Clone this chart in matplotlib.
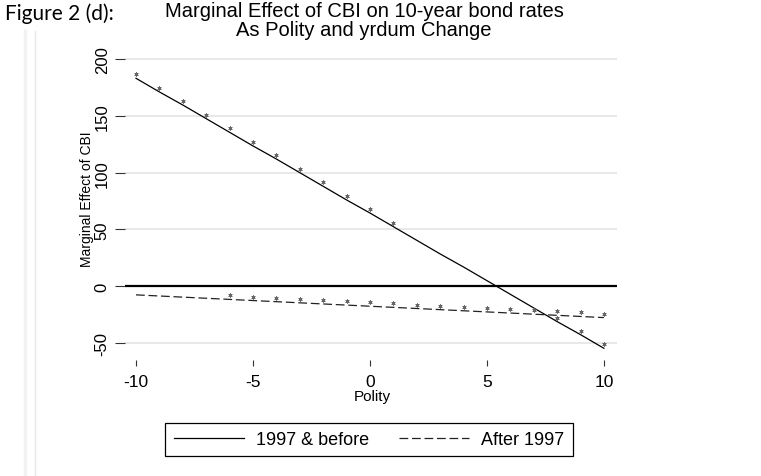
import numpy as np
import matplotlib.pyplot as plt
from matplotlib.lines import Line2D
from matplotlib.transforms import offset_copy

plt.rcParams['font.family'] = ['Liberation Sans', 'DejaVu Sans']

# marginal effect of CBI at each polity score
polity = [-10, -9, -8, -7, -6, -5, -4, -3, -2, -1, 0, 1, 2, 3, 4, 5, 6, 7, 8, 9, 10]
me_before = [183, 171, 159.5, 147.5, 135.5, 123.5, 112, 100, 88, 76, 64.5,
             52.5, 40.5, 28.5, 17, 5, -7, -19, -31, -42.5, -54.5]
me_after = [-7.5, -8.5, -9.5, -10.5, -11.5, -12.5, -13.5, -14.5, -15.5, -16.5, -17.5,
            -18.5, -19.5, -20.5, -21.5, -22.5, -23.5, -24.5, -25.5, -26.5, -27.5]
# 1 = significant (marked with *)
sig_before = [1, 1, 1, 1, 1, 1, 1, 1, 1, 1, 1, 1, 0, 0, 0, 0, 0, 0, 1, 1, 1]
sig_after = [0, 0, 0, 0, 1, 1, 1, 1, 1, 1, 1, 1, 1, 1, 1, 1, 1, 1, 1, 1, 1]

yticks = [-50, 0, 50, 100, 150, 200]
xticks = [-10, -5, 0, 5, 10]

W, H = 761, 477
fig = plt.figure(figsize=(W / 100, H / 100), dpi=100)

left, right, top, bottom = 125, 617, 52, 361
ax = fig.add_axes([left / W, 1 - bottom / H, (right - left) / W, (bottom - top) / H])
ax.set_xlim(-10.47, 10.56)
ax.set_ylim(-64.8, 207)

for s in ax.spines.values():
    s.set_visible(False)

for yv in yticks:
    ax.axhline(yv, color='#e6e6e6', lw=1.3, zorder=0)
ax.axhline(0, color='black', lw=1.6, zorder=1)

ax.plot(polity, me_before, color='black', lw=0.9, label='1997 & before', zorder=3)
ax.plot(polity, me_after, color='#222222', lw=0.9, dashes=(7, 3), label='After 1997', zorder=3)

# stars sit a few pixels above the line
star_tr = offset_copy(ax.transData, fig=fig, x=0, y=4, units='dots')
xs = np.array(polity)
for vals, sig in [(me_before, sig_before), (me_after, sig_after)]:
    m = np.array(sig) == 1
    ax.plot(xs[m], np.array(vals)[m], ls='none', marker=(6, 2, 0), ms=3.0, mew=0.55,
            color='#666666', transform=star_tr, zorder=4)

ax.set_xticks(xticks)
ax.set_xticklabels([str(v) for v in xticks])
ax.set_yticks(yticks)
ax.set_yticklabels([str(v) for v in yticks], rotation=90, va='center')
ax.tick_params(axis='x', length=4, width=0.8, color='#333333', pad=6, labelsize=12.5)
ax.tick_params(axis='y', length=7, width=0.8, color='#333333', pad=4, labelsize=12)

fig.text(372 / W, 1 - 397 / H, 'Polity', ha='center', va='center', fontsize=11)
fig.text(87 / W, 1 - 199 / H, 'Marginal Effect of CBI', ha='center', va='center',
         rotation=90, fontsize=10)

fig.text(364 / W, 1 - 36 / H,
         'Marginal Effect of CBI on 10-year bond rates\nAs Polity and yrdum Change',
         ha='center', va='baseline', multialignment='center', fontsize=14.5,
         linespacing=0.98)
fig.text(5 / W, 1 - 20.5 / H, 'Figure 2 (d):', ha='left', va='baseline',
         fontsize=15, family=['Lato', 'DejaVu Sans'])

# faint page edge lines on the left
fig.add_artist(Line2D([25 / W, 25 / W], [0, 1 - 32 / H], color='#f2f2f2', lw=2.5))
fig.add_artist(Line2D([35 / W, 35 / W], [0, 1 - 32 / H], color='#e8e8e8', lw=1))

leg = ax.legend(loc='upper center', bbox_to_anchor=(369 / W, 1 - 424 / H),
                bbox_transform=fig.transFigure, ncol=2, fontsize=13,
                frameon=True, fancybox=False, edgecolor='black', framealpha=1,
                handlelength=3.9, handletextpad=0.66, columnspacing=1.66,
                borderpad=0.45, borderaxespad=0)
leg.get_frame().set_linewidth(0.9)

fig.savefig('out.png', dpi=100)
